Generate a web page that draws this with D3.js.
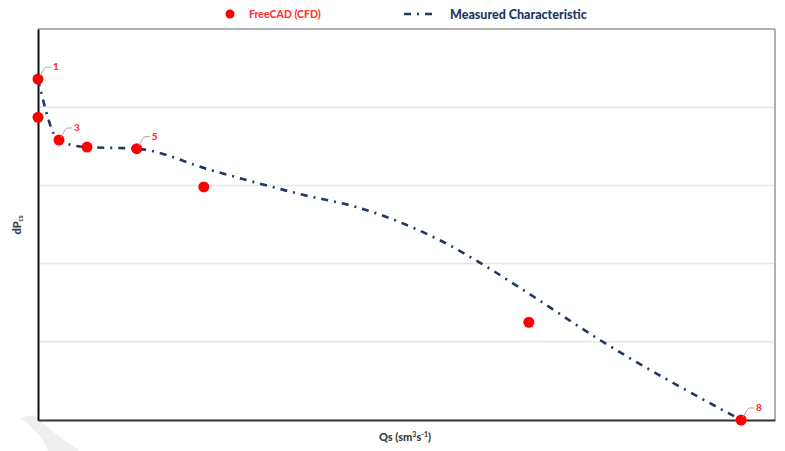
<!DOCTYPE html>
<html>
<head>
<meta charset="utf-8">
<script src="https://cdnjs.cloudflare.com/ajax/libs/d3/7.8.5/d3.min.js"></script>
<style>
  body { margin: 0; background: #fff; }
  svg { display: block; font-family: Lato, "Open Sans", sans-serif; }
</style>
</head>
<body>
<svg></svg>
<script>
const width = 785;
const height = 451;
const margin = { top: 29, right: 10, bottom: 31, left: 38 };

// FreeCAD (CFD) points
const cfdQ = [0, 0, 2.85, 6.65, 13.4, 22.5, 66.6, 95.4];
const cfdDP = [4.36, 3.87, 3.58, 3.49, 3.47, 2.98, 1.25, 0];
const cfdLabels = ['1', '', '3', '', '5', '', '', '8'];

// measured characteristic
const measQ = [0, 2.85, 6.65, 13.4, 23.3, 35.5, 43.7, 49.1, 54.5, 60.0, 65.4, 76.3, 95.4];
const measDP = [4.36, 3.57, 3.49, 3.47, 3.20, 2.89, 2.71, 2.53, 2.30, 2.01, 1.69, 1.02, 0];

const yTicks = [0, 1, 2, 3, 4, 5];

const svg = d3.select('svg')
  .attr('width', width)
  .attr('height', height);

const x = d3.scaleLinear().domain([0, 100]).range([margin.left, width - margin.right]);
const y = d3.scaleLinear().domain([0, 5]).range([height - margin.bottom, margin.top]);

// faint watermark bottom-left
svg.append('path')
  .attr('d', 'M20,418 L33,415 C45,425 60,438 80,451 L48,451 C44,440 35,428 20,418 Z')
  .attr('fill', '#efefef');

// gridlines
svg.append('g')
  .selectAll('line')
  .data(yTicks.slice(1, -1))
  .enter()
  .append('line')
    .attr('x1', x(0))
    .attr('x2', width - margin.right)
    .attr('y1', d => y(d))
    .attr('y2', d => y(d))
    .attr('stroke', '#e6e6e6')
    .attr('stroke-width', 1.5);

// frame: top + right grey, left + bottom dark
svg.append('line')
  .attr('x1', x(0)).attr('x2', width - margin.right)
  .attr('y1', y(5)).attr('y2', y(5))
  .attr('stroke', '#999').attr('stroke-width', 1.5);
svg.append('line')
  .attr('x1', width - margin.right).attr('x2', width - margin.right)
  .attr('y1', y(5)).attr('y2', y(0))
  .attr('stroke', '#999').attr('stroke-width', 1.5);

svg.append('g')
  .attr('transform', `translate(0,${y(0)})`)
  .call(d3.axisBottom(x).tickValues([]).tickSizeOuter(0))
  .call(g => g.select('.domain').attr('stroke', '#333').attr('stroke-width', 2));

svg.append('g')
  .attr('transform', `translate(${x(0)},0)`)
  .call(d3.axisLeft(y).tickValues([]).tickSizeOuter(0))
  .call(g => g.select('.domain').attr('stroke', '#111').attr('stroke-width', 2));

// measured line
const meas = measQ.map((q, i) => ({ q, dp: measDP[i] }));
const line = d3.line()
  .x(d => x(d.q))
  .y(d => y(d.dp))
  .curve(d3.curveMonotoneX);

svg.append('path')
  .datum(meas)
  .attr('d', line)
  .attr('fill', 'none')
  .attr('stroke', '#1f3864')
  .attr('stroke-width', 2.6)
  .attr('stroke-dasharray', '7,6,2,6');

// CFD points
const cfd = cfdQ.map((q, i) => ({ q, dp: cfdDP[i], label: cfdLabels[i] }));

svg.append('g')
  .selectAll('circle')
  .data(cfd)
  .enter()
  .append('circle')
    .attr('cx', d => x(d.q))
    .attr('cy', d => y(d.dp))
    .attr('r', 5.5)
    .attr('fill', '#ff0000');

// data labels with leader lines
const labelled = cfd.filter(d => d.label);
svg.append('g')
  .selectAll('path')
  .data(labelled)
  .enter()
  .append('path')
    .attr('d', d => {
      const px = x(d.q), py = y(d.dp);
      return `M${px + 2},${py - 3} L${px + 6},${py - 10} Q${px + 7},${py - 12} ${px + 9},${py - 12} L${px + 13},${py - 12}`;
    })
    .attr('fill', 'none')
    .attr('stroke', '#a6a6a6')
    .attr('stroke-width', 1);

svg.append('g')
  .selectAll('text')
  .data(labelled)
  .enter()
  .append('text')
    .attr('x', d => x(d.q) + 15)
    .attr('y', d => y(d.dp) - 9)
    .attr('font-size', 10)
    .attr('font-weight', 900)
    .attr('fill', '#ff3333')
    .text(d => d.label);

// legend
svg.append('circle')
  .attr('cx', 230).attr('cy', 14).attr('r', 4.5)
  .attr('fill', '#ff0000');
svg.append('text')
  .attr('x', 249).attr('y', 18)
  .attr('font-size', 10.5)
  .attr('font-weight', 900)
  .attr('fill', '#ff3333')
  .text('FreeCAD (CFD)');

svg.append('line')
  .attr('x1', 404).attr('x2', 436)
  .attr('y1', 14).attr('y2', 14)
  .attr('stroke', '#1f3864')
  .attr('stroke-width', 2.6)
  .attr('stroke-dasharray', '7,6,2,6');
svg.append('text')
  .attr('x', 450).attr('y', 18.5)
  .attr('font-size', 12.5)
  .attr('font-weight', 900)
  .attr('fill', '#1f3864')
  .text('Measured Characteristic');

// axis titles
const xt = svg.append('text')
  .attr('x', 405).attr('y', 441)
  .attr('text-anchor', 'middle')
  .attr('font-size', 11)
  .attr('font-weight', 900)
  .attr('fill', '#404040');
xt.append('tspan').text('Qs (sm');
xt.append('tspan').attr('font-size', 7).attr('dy', -4).text('3');
xt.append('tspan').attr('dy', 4).text('s');
xt.append('tspan').attr('font-size', 7).attr('dy', -4).text('-1');
xt.append('tspan').attr('dy', 4).text(')');

const yt = svg.append('text')
  .attr('transform', 'translate(21,225) rotate(-90)')
  .attr('text-anchor', 'middle')
  .attr('font-size', 11)
  .attr('font-weight', 900)
  .attr('fill', '#404040');
yt.append('tspan').text('dP');
yt.append('tspan').attr('font-size', 6.5).attr('dy', 2).text('cs');
</script>
</body>
</html>
